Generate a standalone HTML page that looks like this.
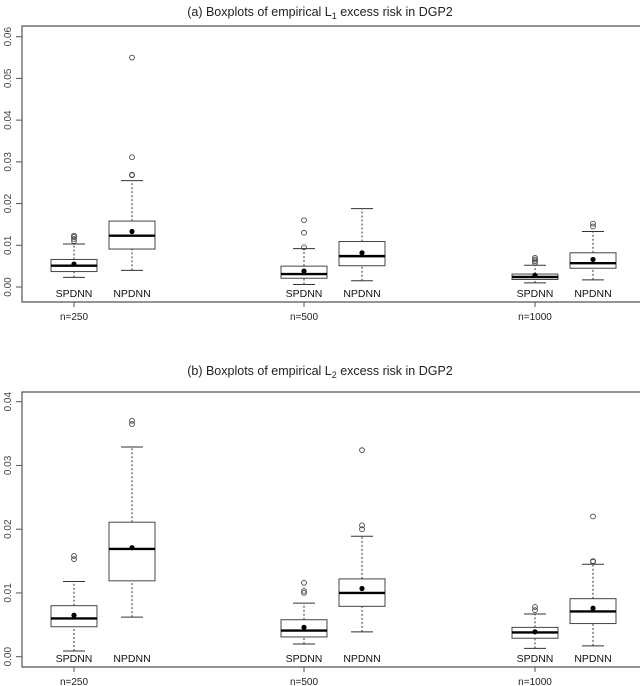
<!DOCTYPE html>
<html><head><meta charset="utf-8"><style>
body{margin:0;background:#fff;}
svg{display:block;font-family:"Liberation Sans",sans-serif;}
</style></head><body>
<svg id="chart" width="640" height="686" viewBox="0 0 640 686"></svg>
<script>
// shared categories
const groups = ["n=250","n=500","n=1000"];
const methods = ["SPDNN","NPDNN"];
// Panel (a): [low whisker, Q1, median, Q3, high whisker] per box in order SPDNN250,NPDNN250,SPDNN500,NPDNN500,SPDNN1000,NPDNN1000
const statsA = [
  [0.0023,0.0037,0.0051,0.0066,0.0103],
  [0.0040,0.0091,0.0123,0.0158,0.0255],
  [0.0006,0.0021,0.0031,0.0050,0.0092],
  [0.0015,0.0051,0.0074,0.0109,0.0188],
  [0.0010,0.0018,0.0024,0.0031,0.0052],
  [0.0017,0.0045,0.0057,0.0082,0.0133]
];
const meansA = [0.0055,0.0133,0.0038,0.0082,0.0028,0.0066];
const outliersA = [
  [0.0110,0.0115,0.0120,0.0123],
  [0.0268,0.0269,0.0311,0.0550],
  [0.0095,0.0130,0.0160],
  [],
  [0.0058,0.0062,0.0066,0.0070],
  [0.0145,0.0152]
];
const ticksA = [0,0.01,0.02,0.03,0.04,0.05,0.06];
const tickLabelsA = ["0.00","0.01","0.02","0.03","0.04","0.05","0.06"];
// Panel (b)
const statsB = [
  [0.0009,0.0047,0.0060,0.0080,0.0118],
  [0.0062,0.0119,0.0169,0.0211,0.0329],
  [0.0020,0.0031,0.0041,0.0058,0.0084],
  [0.0039,0.0079,0.0100,0.0122,0.0189],
  [0.0013,0.0029,0.0038,0.0046,0.0067],
  [0.0017,0.0052,0.0071,0.0091,0.0145]
];
const meansB = [0.0065,0.0171,0.0046,0.0107,0.0039,0.0076];
const outliersB = [
  [0.0153,0.0158],
  [0.0365,0.0370],
  [0.0100,0.0103,0.0116],
  [0.0200,0.0206,0.0324],
  [0.0073,0.0078],
  [0.0149,0.0150,0.0220]
];
const ticksB = [0,0.01,0.02,0.03,0.04];
const tickLabelsB = ["0.00","0.01","0.02","0.03","0.04"];

const NS="http://www.w3.org/2000/svg";
const svg=document.getElementById('chart');
function el(tag,attrs,parent){const e=document.createElementNS(NS,tag);for(const k in attrs)e.setAttribute(k,attrs[k]);(parent||svg).appendChild(e);return e;}
const boxX=[74,132,304,362,535,593];
const groupX=[74,304,535];

function panel(cfg){
  const g=el('g',{});
  
  
  const y=v=>cfg.y0-(v-0)*(cfg.y0-cfg.yTop)/cfg.vTop;
  // frame
  const fr=el('path',{d:`M642 ${cfg.top} H22 V${cfg.bottom} H642`,fill:'none',stroke:'#555','stroke-width':1.2},g);
  
  
  // title
  const t=el('text',{x:320,y:cfg.titleY,'text-anchor':'middle','font-size':12.5,fill:'#222'},g);
  
  
  t.innerHTML=cfg.title;
  // y ticks
  cfg.ticks.forEach((v,i)=>{
    const yy=y(v);
    const tk=el('line',{x1:16,x2:22,y1:yy,y2:yy,stroke:'#555'},g);
    
    
    const tl=el('text',{x:0,y:0,transform:`translate(11 ${yy}) rotate(-90)`,'text-anchor':'middle','font-size':10,fill:'#444'},g);
    
    
    tl.textContent=cfg.tickLabels[i];
  });
  // x ticks
  groups.forEach((lab,i)=>{
    const tk=el('line',{x1:groupX[i],x2:groupX[i],y1:cfg.bottom,y2:cfg.bottom+5,stroke:'#555'},g);
    
    
    const tl=el('text',{x:groupX[i],y:cfg.bottom+18,'text-anchor':'middle','font-size':10,fill:'#222'},g);
    
    
    tl.textContent=lab;
  });
  cfg.stats.forEach((s,i)=>{
    const cx=boxX[i];
    const bg=el('g',{},g);
    
    
    el('line',{x1:cx,x2:cx,y1:y(s[0]),y2:y(s[1]),stroke:'#333','stroke-dasharray':'2 2'},bg);
    el('line',{x1:cx,x2:cx,y1:y(s[3]),y2:y(s[4]),stroke:'#333','stroke-dasharray':'2 2'},bg);
    el('line',{x1:cx-11,x2:cx+11,y1:y(s[0]),y2:y(s[0]),stroke:'#333'},bg);
    el('line',{x1:cx-11,x2:cx+11,y1:y(s[4]),y2:y(s[4]),stroke:'#333'},bg);
    el('rect',{x:cx-23,y:y(s[3]),width:46,height:y(s[1])-y(s[3]),fill:'#fff',stroke:'#444'},bg);
    el('line',{x1:cx-23,x2:cx+23,y1:y(s[2]),y2:y(s[2]),stroke:'#000','stroke-width':2.4},bg);
    el('circle',{cx:cx,cy:y(cfg.means[i]),r:2.6,fill:'#000'},bg);
    cfg.outliers[i].forEach(o=>{el('circle',{cx:cx,cy:y(o),r:2.4,fill:'none',stroke:'#444','stroke-width':0.9},bg);});
    const ml=el('text',{x:cx,y:cfg.methodY,'text-anchor':'middle','font-size':10.5,fill:'#111'},g);
    
    
    ml.textContent=methods[i%2];
  });
}
panel({name:'panel-a',title:'(a) Boxplots of empirical L<tspan font-size="9" dy="3">1</tspan><tspan dy="-3"> excess risk in DGP2</tspan>',titleY:16,top:26,bottom:302,y0:287,yTop:36.7,vTop:0.06,ticks:ticksA,tickLabels:tickLabelsA,stats:statsA,means:meansA,outliers:outliersA,methodY:297});
panel({name:'panel-b',title:'(b) Boxplots of empirical L<tspan font-size="9" dy="3">2</tspan><tspan dy="-3"> excess risk in DGP2</tspan>',titleY:375,top:392,bottom:667,y0:656.7,yTop:401.7,vTop:0.04,ticks:ticksB,tickLabels:tickLabelsB,stats:statsB,means:meansB,outliers:outliersB,methodY:662});
</script>
</body></html>
